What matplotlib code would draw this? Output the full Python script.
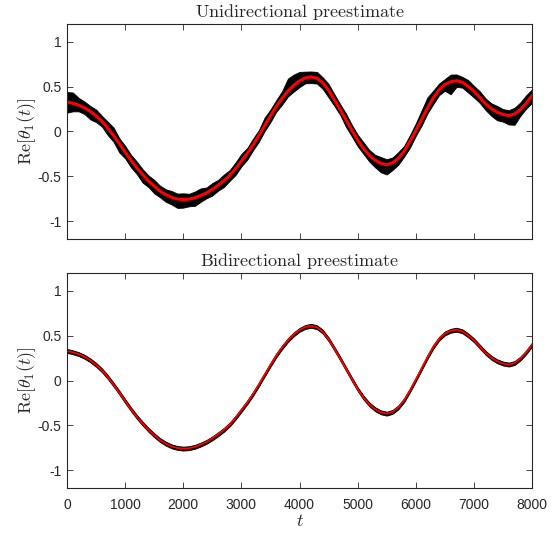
import matplotlib
matplotlib.use("Agg")
import matplotlib.pyplot as plt
import numpy as np

# true signal, every 100 samples
t_grid = list(range(0, 8001, 100))
re_true = [0.33, 0.315, 0.295, 0.265, 0.225, 0.175, 0.115, 0.04, -0.045, -0.135,
           -0.23, -0.32, -0.405, -0.48, -0.55, -0.61, -0.665, -0.705, -0.735, -0.753,
           -0.76, -0.755, -0.74, -0.715, -0.685, -0.645, -0.60, -0.55, -0.49, -0.415,
           -0.33, -0.245, -0.15, -0.045, 0.065, 0.175, 0.28, 0.37, 0.45, 0.515,
           0.565, 0.598, 0.61, 0.595, 0.545, 0.46, 0.355, 0.245, 0.13, 0.015,
           -0.095, -0.19, -0.265, -0.32, -0.355, -0.37, -0.35, -0.30, -0.22, -0.11,
           0.01, 0.135, 0.26, 0.375, 0.465, 0.525, 0.555, 0.567, 0.55, 0.505,
           0.45, 0.38, 0.31, 0.255, 0.215, 0.19, 0.178, 0.195, 0.245, 0.315, 0.40]

# spread of the noisy unidirectional preestimate above / below the curve
uni_up = [0.11, 0.12, 0.08, 0.07, 0.06, 0.07, 0.06, 0.07, 0.09, 0.06,
          0.07, 0.06, 0.07, 0.06, 0.06, 0.07, 0.06, 0.06, 0.07, 0.06,
          0.07, 0.06, 0.07, 0.08, 0.06, 0.07, 0.06, 0.07, 0.06, 0.07,
          0.08, 0.06, 0.07, 0.06, 0.09, 0.07, 0.07, 0.08, 0.14, 0.12,
          0.10, 0.07, 0.06, 0.07, 0.06, 0.07, 0.06, 0.06, 0.07, 0.06,
          0.06, 0.07, 0.06, 0.06, 0.07, 0.06, 0.06, 0.07, 0.06, 0.07,
          0.08, 0.10, 0.12, 0.08, 0.07, 0.06, 0.08, 0.07, 0.06, 0.07,
          0.06, 0.07, 0.06, 0.06, 0.07, 0.06, 0.06, 0.07, 0.08, 0.09, 0.07]
uni_lo = [0.12, 0.09, 0.07, 0.07, 0.09, 0.07, 0.06, 0.08, 0.07, 0.10,
          0.07, 0.08, 0.07, 0.09, 0.07, 0.08, 0.07, 0.08, 0.08, 0.10,
          0.09, 0.08, 0.09, 0.07, 0.06, 0.07, 0.06, 0.07, 0.06, 0.07,
          0.06, 0.07, 0.06, 0.07, 0.06, 0.07, 0.06, 0.07, 0.06, 0.07,
          0.07, 0.06, 0.07, 0.06, 0.07, 0.08, 0.07, 0.06, 0.08, 0.07,
          0.07, 0.06, 0.07, 0.08, 0.10, 0.11, 0.08, 0.07, 0.06, 0.07,
          0.06, 0.07, 0.06, 0.07, 0.06, 0.07, 0.14, 0.07, 0.06, 0.07,
          0.07, 0.06, 0.07, 0.08, 0.09, 0.08, 0.10, 0.12, 0.07, 0.06, 0.08]

# spread of the bidirectional preestimate
bi_spread = 0.022

x_ticks = [0, 1000, 2000, 3000, 4000, 5000, 6000, 7000, 8000]
y_ticks = [-1, -0.5, 0, 0.5, 1]
y_tick_labels = ["-1", "-0.5", "0", "0.5", "1"]

plt.rcParams["font.family"] = ["Liberation Sans", "DejaVu Sans"]
plt.rcParams["mathtext.fontset"] = "cm"

fig = plt.figure(figsize=(5.59, 5.33), dpi=100)
ax1 = fig.add_axes([0.1199, 0.5516, 0.8318, 0.4034])
ax2 = fig.add_axes([0.1199, 0.0844, 0.8318, 0.4034])

t = np.array(t_grid)
re = np.array(re_true)

ax1.fill_between(t, re + np.array(uni_up), re - np.array(uni_lo),
                 color="black", lw=0.6)
ax1.plot(t, re, color="red", lw=2.2, solid_joinstyle="round")

ax2.fill_between(t, re + bi_spread, re - bi_spread, color="black", lw=0.6)
ax2.plot(t, re, color="red", lw=1.3, solid_joinstyle="round")

axcol = "#262626"
for ax, title in [(ax1, r"$\mathrm{Unidirectional\ preestimate}$"),
                  (ax2, r"$\mathrm{Bidirectional\ preestimate}$")]:
    ax.set_xlim(0, 8000)
    ax.set_ylim(-1.2, 1.2)
    ax.set_xticks(x_ticks)
    ax.set_yticks(y_ticks)
    ax.set_yticklabels(y_tick_labels)
    ax.tick_params(direction="in", length=4.5, width=0.6, top=True, right=True,
                   labelsize=10, colors=axcol, pad=4)
    ax.tick_params(axis="x", pad=7)
    for s in ax.spines.values():
        s.set_color(axcol)
        s.set_linewidth(0.8)
    ax.set_title(title, fontsize=13, color=axcol, pad=5)
    ax.set_ylabel(r"$\mathrm{Re}[\theta_1(t)]$", fontsize=13, color=axcol,
                  labelpad=0)

ax1.tick_params(labelbottom=False)
ax2.set_xlabel(r"$t$", fontsize=13, color=axcol, labelpad=1)

fig.savefig("out.png", dpi=100)
